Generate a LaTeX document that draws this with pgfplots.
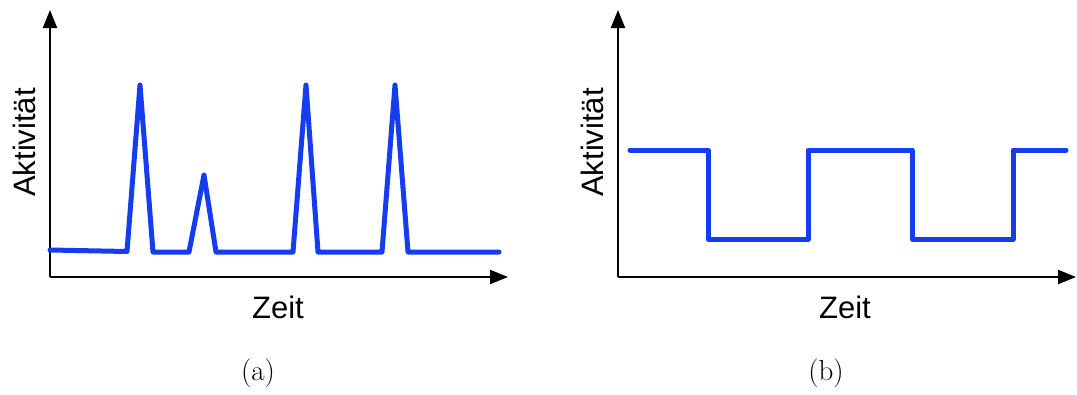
\documentclass[border=0pt]{standalone}
\usepackage{fontspec}
\newfontfamily\labelfont{Liberation Sans}
\usepackage{pgfplots}
\pgfplotsset{compat=1.18}
\usetikzlibrary{arrows.meta}

\definecolor{signal}{RGB}{20,60,240}

\pgfplotsset{
  activity/.style={
    scale only axis,
    width=458pt, height=267pt,
    xmin=0, xmax=458, ymin=0, ymax=267,
    axis lines=left,
    axis line style={line width=2.4pt, -{Triangle[length=18pt,width=14pt]}},
    ticks=none,
    clip=false,
    anchor=south west,
  },
  trace/.style={signal, line width=5pt, line join=round, line cap=round},
}

\begin{document}
\begin{tikzpicture}[x=1pt, y=1pt]
\useasboundingbox (0,0) rectangle (1077,-394);

% (a) sparse bursts of activity
\begin{axis}[activity, at={(50pt,-277pt)}]
\addplot[trace] coordinates {
  (0,27) (77,25.5) (90,192) (103,25) (139,25) (154,102) (166,25)
  (243,25) (256,192) (268,25) (332,25) (345,192) (358,25) (449,25)
};
\end{axis}

% (b) alternating high and low activity
\begin{axis}[activity, at={(618pt,-277pt)}]
\addplot[trace] coordinates {
  (12,127) (90,127) (90,38) (190,38) (190,127) (294,127)
  (294,38) (395,38) (395,127) (448,127)
};
\end{axis}

\node[rotate=90, anchor=base, font=\labelfont\fontsize{31}{36}\selectfont] at (35,-142.5) {Aktivität};
\node[rotate=90, anchor=base, font=\labelfont\fontsize{31}{36}\selectfont] at (603,-142.5) {Aktivität};
\node[anchor=base, font=\labelfont\fontsize{31}{36}\selectfont] at (278,-318) {Zeit};
\node[anchor=base, font=\labelfont\fontsize{31}{36}\selectfont] at (845,-318) {Zeit};
\node[anchor=base, font=\fontsize{29}{34}\selectfont] at (258,-380) {(a)};
\node[anchor=base, font=\fontsize{29}{34}\selectfont] at (826,-380) {(b)};
\end{tikzpicture}
\end{document}
